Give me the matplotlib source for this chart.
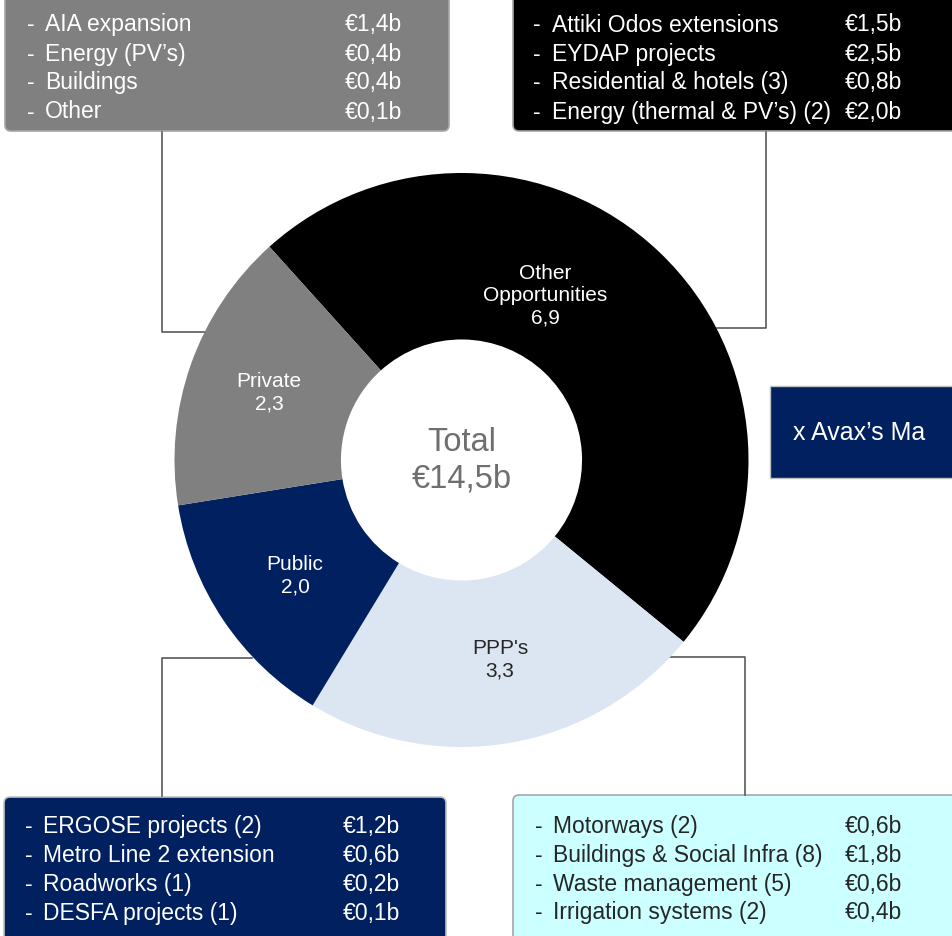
import matplotlib.pyplot as plt
from matplotlib.patches import FancyBboxPatch, Rectangle

plt.rcParams['font.family'] = ['Liberation Sans', 'DejaVu Sans']

# -------------------------------------------------------------------
# Data
# -------------------------------------------------------------------
segments = ['Other\nOpportunities', 'PPP\'s', 'Public', 'Private']
values = [6.9, 3.3, 2.0, 2.3]
seg_colors = ['#000000', '#dce6f2', '#002060', '#808080']
seg_text = ['white', '#262626', 'white', 'white']
total_label = 'Total\n€14,5b'

private_items = ['AIA expansion', 'Energy (PV’s)', 'Buildings', 'Other']
private_vals = ['€1,4b', '€0,4b', '€0,4b', '€0,1b']

other_items = ['Attiki Odos extensions', 'EYDAP projects',
               'Residential & hotels (3)', 'Energy (thermal & PV’s) (2)']
other_vals = ['€1,5b', '€2,5b', '€0,8b', '€2,0b']

public_items = ['ERGOSE projects (2)', 'Metro Line 2 extension',
                'Roadworks (1)', 'DESFA projects (1)']
public_vals = ['€1,2b', '€0,6b', '€0,2b', '€0,1b']

ppp_items = ['Motorways (2)', 'Buildings & Social Infra (8)',
             'Waste management (5)', 'Irrigation systems (2)']
ppp_vals = ['€0,6b', '€1,8b', '€0,6b', '€0,4b']

side_label = 'x Avax’s Ma'

# -------------------------------------------------------------------
# Figure (pixel coordinates in background axes)
# -------------------------------------------------------------------
W, H = 952, 937
fig = plt.figure(figsize=(W / 100, H / 100), dpi=100)
bg = fig.add_axes([0, 0, 1, 1], zorder=0)
bg.set_xlim(0, W)
bg.set_ylim(H, 0)
bg.axis('off')

LINE = '#595959'


def box(x0, y0, x1, y1, face, edge):
    p = FancyBboxPatch((x0, y0), x1 - x0, y1 - y0,
                       boxstyle='round,pad=0,rounding_size=6',
                       facecolor=face, edgecolor=edge, linewidth=1.2)
    bg.add_patch(p)


def item_list(items, vals, x_dash, x_lab, x_val, ys, color):
    for it, v, y in zip(items, vals, ys):
        bg.text(x_dash, y, '-', color=color, fontsize=16.5, va='center', ha='left')
        bg.text(x_lab, y, it, color=color, fontsize=16.5, va='center', ha='left')
        bg.text(x_val, y, v, color=color, fontsize=16.5, va='center', ha='left')


# top-left (private)
box(5, -10, 449, 132, '#808080', '#a6a6a6')
item_list(private_items, private_vals, 27, 45, 345,
          [25, 54, 83, 112], 'white')

# top-right (other opportunities)
box(513, -10, 970, 132, '#000000', '#a6a6a6')
item_list(other_items, other_vals, 533, 552, 845,
          [25, 54, 83, 112], 'white')

# bottom-left (public)
box(4, 798, 446, 950, '#002060', '#bfbfbf')
item_list(public_items, public_vals, 25, 43, 343,
          [827, 856, 885, 914], 'white')

# bottom-right (PPP)
box(513, 796, 970, 950, '#ccffff', '#a6a6a6')
item_list(ppp_items, ppp_vals, 535, 553, 845,
          [827, 856, 885, 913], '#262626')

# side box
bg.add_patch(Rectangle((770, 387), 200, 92, facecolor='#002060',
                       edgecolor='#bfbfbf', linewidth=1))
bg.text(793, 433, side_label, color='white', fontsize=18, va='center', ha='left')

# connector lines
bg.plot([161.5, 161.5, 210], [133, 333, 333], color=LINE, lw=1.2)
bg.plot([766, 766, 717], [133, 329, 329], color=LINE, lw=1.2)
bg.plot([161.5, 161.5, 252], [797, 659, 659], color=LINE, lw=1.2)
bg.plot([665, 745, 745], [658, 658, 796], color=LINE, lw=1.2)

# -------------------------------------------------------------------
# Donut
# -------------------------------------------------------------------
cx, cy, r = 461.5, 461, 287
pie_ax = fig.add_axes([(cx - r) / W, (H - cy - r) / H, 2 * r / W, 2 * r / H],
                      zorder=1)
pie_ax.pie(values, colors=seg_colors, startangle=132, counterclock=False,
           wedgeprops=dict(width=0.58, linewidth=0))
pie_ax.set_xlim(-1, 1)
pie_ax.set_ylim(-1, 1)
pie_ax.axis('off')

# labels on overlay
top = fig.add_axes([0, 0, 1, 1], zorder=2)
top.set_xlim(0, W)
top.set_ylim(H, 0)
top.axis('off')
top.patch.set_alpha(0)

label_pos = [(545, 296), (500, 660), (295, 576), (269, 393)]
for name, v, (x, y), c in zip(segments, values, label_pos, seg_text):
    txt = name + '\n' + f'{v:.1f}'.replace('.', ',')
    top.text(x, y, txt, color=c, fontsize=15, ha='center', va='center',
             linespacing=1.2)

top.text(cx, 461, total_label, color='#6f6f6f', fontsize=23.5,
         ha='center', va='center', linespacing=1.25)

fig.savefig('out.png', dpi=100)
